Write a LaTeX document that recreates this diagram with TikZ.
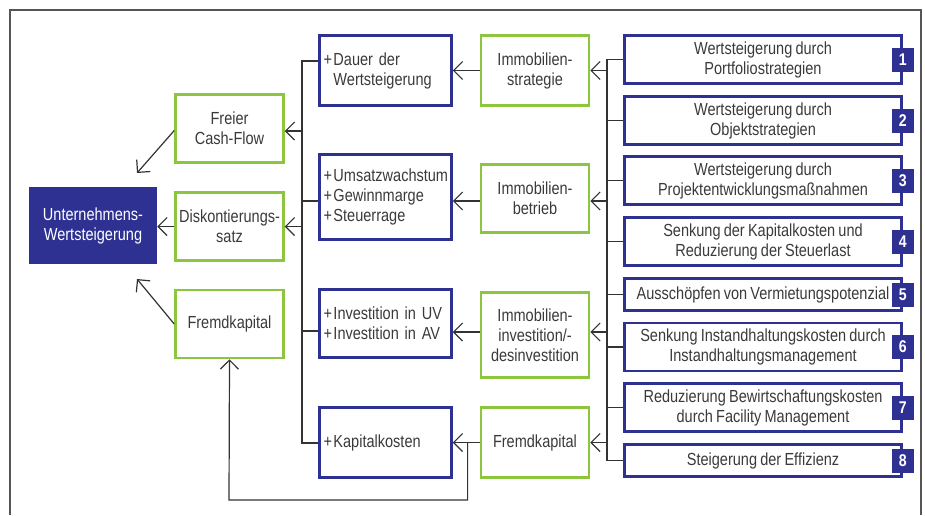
\documentclass[tikz,border=0pt]{standalone}
\usepackage{fontspec}
\setmainfont[FakeStretch=0.83,WordSpace=0.8]{Liberation Sans}
\usepackage{tikz}
\usetikzlibrary{shapes,arrows,arrows.meta}
\usetikzlibrary{calc}
\usetikzlibrary{positioning}

\definecolor{darkblue}{HTML}{2E3192}
\definecolor{limegreen}{HTML}{8CC63F}
\definecolor{textgray}{HTML}{3A3A3A}
\definecolor{linegray}{HTML}{333333}
\definecolor{framegray}{HTML}{555555}

\begin{document}
\begin{tikzpicture}[x=1pt,y=-1pt,
	base_node/.style={rectangle,draw,line width=2.5pt,inner sep=0pt,text=textgray,font=\fontsize{17.5}{20}\selectfont,align=center},
	goal_node/.style={base_node,draw=darkblue,fill=darkblue,text=white,minimum width=126pt,minimum height=75pt},
	green_node/.style={base_node,draw=limegreen,minimum width=108pt,minimum height=68pt},
	blue_node/.style={base_node,draw=darkblue,minimum width=132pt,minimum height=70pt,text width=124pt,align=left,inner xsep=4pt},
	lever_node/.style={base_node,draw=darkblue,minimum width=277pt,minimum height=48pt},
	num_node/.style={rectangle,fill=darkblue,text=white,font=\fontsize{17}{20}\selectfont\bfseries,minimum width=22pt,minimum height=24pt,inner sep=0pt},
	link/.style={draw=linegray,line width=1.2pt},
	arr/.style={link,-{Straight Barb[length=9pt,width=18pt]}}]

	\useasboundingbox (0,0) rectangle (925,515);
	\draw[framegray,line width=1.5pt] (10,515) -- (10,10) -- (921,10) -- (921,515);

	% target
	\node[goal_node] (main) at (93,225.5) {Unternehmens-\\Wertsteigerung};

	% value drivers
	\node[green_node] (cf) at (229.5,128.5) {Freier\\Cash-Flow};
	\node[green_node] (disk) at (229.5,226.5) {Diskontierungs-\\satz};
	\node[green_node] (fk1) at (229.5,324) {Fremdkapital};

	% effects
	\node[blue_node] (dauer) at (385.5,70.5) {+\kern1.5pt Dauer der\\\hphantom{+\kern1.5pt}Wertsteigerung};
	\node[blue_node,minimum height=85pt] (umsatz) at (385.5,197) {+\kern1.5pt Umsatzwachstum\\+\kern1.5pt Gewinnmarge\\+\kern1.5pt Steuerrage};
	\node[blue_node,minimum height=68pt] (invest) at (385.5,323.5) {+\kern1.5pt Investition in UV\\+\kern1.5pt Investition in AV};
	\node[blue_node] (kapital) at (385.5,442.5) {+\kern1.5pt Kapitalkosten};

	% fields of action
	\node[green_node,minimum height=70pt] (strat) at (535,70.5) {Immobilien-\\strategie};
	\node[green_node] (betrieb) at (535,198.5) {Immobilien-\\betrieb};
	\node[green_node,minimum height=85pt] (invest2) at (535,335) {Immobilien-\\investition/-\\desinvestition};
	\node[green_node,minimum height=70pt] (fk2) at (535,442.5) {Fremdkapital};

	% levers
	\node[lever_node] (l1) at (763,59.5) {Wertsteigerung durch\\Portfoliostrategien};
	\node[lever_node] (l2) at (763,120.5) {Wertsteigerung durch\\Objektstrategien};
	\node[lever_node] (l3) at (763,180.5) {Wertsteigerung durch\\Projektentwicklungsmaßnahmen};
	\node[lever_node] (l4) at (763,241.5) {Senkung der Kapitalkosten und\\Reduzierung der Steuerlast};
	\node[lever_node,minimum height=32pt] (l5) at (763,294.5) {Ausschöpfen von Vermietungspotenzial};
	\node[lever_node] (l6) at (763,347) {Senkung Instandhaltungskosten durch\\Instandhaltungsmanagement};
	\node[lever_node] (l7) at (763,407.5) {Reduzierung Bewirtschaftungskosten\\durch Facility Management};
	\node[lever_node,minimum height=32pt] (l8) at (763,460.5) {Steigerung der Effizienz};

	\foreach \i in {1,...,8}
		\node[num_node] (n\i) at (l\i.east) {\i};

	% buses
	\coordinate (lb_top) at (302,61);
	\coordinate (lb_bot) at (302,443);
	\coordinate (rb_top) at (607,59.5);
	\coordinate (loop_corner) at (229,500);
	\coordinate (cf_tip) at (137,173);
	\coordinate (fk_tip) at (137,279);

	\draw[link] (l1.west) -- (l1.west -| rb_top) -- (l8.west -| rb_top) -- (l8.west);
	\foreach \i in {2,...,7}
		\draw[link] (l\i.west) -- (l\i.west -| rb_top);
	\draw[arr] (strat.east -| rb_top) -- (strat.east);
	\draw[arr] ([yshift=-2.5pt]betrieb.east -| rb_top) -- ([yshift=-2.5pt]betrieb.east);
	\draw[arr] ([yshift=3pt]invest2.east -| rb_top) -- ([yshift=3pt]invest2.east);
	\draw[arr] (fk2.east -| rb_top) -- (fk2.east);

	\draw[arr] (strat.west) -- (strat.west -| dauer.east);
	\draw[arr] ([yshift=-2.5pt]betrieb.west) -- ([yshift=-2.5pt]betrieb.west -| umsatz.east);
	\draw[arr] ([yshift=3pt]invest2.west) -- ([yshift=3pt]invest2.west -| invest.east);
	\draw[arr] (fk2.west) -- (kapital.east);

	\draw[link] (dauer.west |- lb_top) -- (lb_top) -- (lb_bot) -- (kapital.west |- lb_bot);
	\draw[link] ([yshift=-4pt]umsatz.west) -- ([yshift=-4pt]umsatz.west -| lb_top);
	\draw[link] ([yshift=-7.5pt]invest.west) -- ([yshift=-7.5pt]invest.west -| lb_top);
	\draw[arr] ([yshift=-2.5pt]cf.east -| lb_top) -- ([yshift=-2.5pt]cf.east);
	\draw[arr] (disk.east -| lb_top) -- (disk.east);

	\draw[arr] ($(kapital.east)!0.55!(fk2.west)$) |- (loop_corner) -- (fk1.south);

	\draw[arr] ([yshift=-2pt]cf.west) -- (cf_tip);
	\draw[arr] (disk.west) -- (disk.west -| main.east);
	\draw[arr] (fk1.west) -- (fk_tip);
\end{tikzpicture}
\end{document}
